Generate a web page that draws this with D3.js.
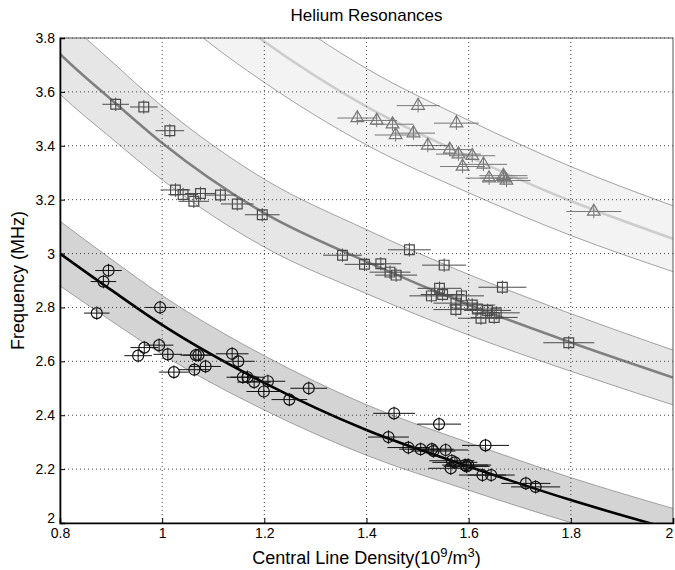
<!DOCTYPE html>
<html>
<head>
<meta charset="utf-8">
<script src="https://cdn.jsdelivr.net/npm/d3@7"></script>
<style>
  body { margin: 0; background: #fff; }
  svg text { font-family: "Liberation Sans", Arial, sans-serif; }
</style>
</head>
<body>
<div id="chart"></div>
<script>
// Helium resonances: frequency vs central line density, three modes

const xTicks = [0.8, 1, 1.2, 1.4, 1.6, 1.8, 2];
const yTicks = [2, 2.2, 2.4, 2.6, 2.8, 3, 3.2, 3.4, 3.6, 3.8];

// fitted curves
const lowCurveX = [0.8, 0.9, 1.0, 1.2, 1.4, 1.6, 1.8, 2.0];
const lowCurveY = [3.00, 2.865, 2.735, 2.52, 2.345, 2.21, 2.085, 1.975];

const midCurveX = [0.75, 0.8, 0.9, 1.0, 1.2, 1.4, 1.6, 1.8, 2.0];
const midCurveY = [3.84, 3.741, 3.572, 3.41, 3.15, 2.97, 2.81, 2.67, 2.54];

const highCurveX = [1.0, 1.1, 1.19, 1.4, 1.6, 1.8, 2.0];
const highCurveY = [4.09, 3.928, 3.80, 3.545, 3.36, 3.195, 3.055];

const bandFrac = 0.04;

// circles
const circleX = [0.872, 0.885, 0.895, 0.953, 0.965, 0.994, 0.996, 1.011, 1.023, 1.063, 1.066, 1.071, 1.085, 1.137, 1.149, 1.158, 1.167, 1.180, 1.199, 1.207, 1.249, 1.287,
  1.443, 1.454, 1.482, 1.506, 1.528, 1.531, 1.542, 1.555, 1.565, 1.567, 1.573, 1.593, 1.596, 1.599, 1.627, 1.633, 1.644, 1.712, 1.731];
const circleY = [2.779, 2.896, 2.937, 2.621, 2.651, 2.660, 2.800, 2.626, 2.560, 2.569, 2.623, 2.623, 2.581, 2.628, 2.600, 2.541, 2.541, 2.523, 2.488, 2.526, 2.458, 2.500,
  2.319, 2.407, 2.280, 2.274, 2.274, 2.267, 2.367, 2.271, 2.203, 2.231, 2.225, 2.215, 2.210, 2.215, 2.178, 2.288, 2.178, 2.147, 2.134];
const circleXErr = [0.025, 0.025, 0.026, 0.027, 0.027, 0.028, 0.029, 0.028, 0.029, 0.030, 0.030, 0.030, 0.030, 0.032, 0.032, 0.032, 0.033, 0.033, 0.034, 0.034, 0.035, 0.036,
  0.040, 0.041, 0.041, 0.042, 0.043, 0.043, 0.043, 0.044, 0.044, 0.044, 0.044, 0.045, 0.045, 0.045, 0.046, 0.046, 0.046, 0.048, 0.048];

// squares
const squareX = [0.909, 0.964, 1.015, 1.026, 1.041, 1.062, 1.075, 1.114, 1.147, 1.196,
  1.353, 1.396, 1.428, 1.446, 1.458, 1.484, 1.527, 1.543, 1.549, 1.552, 1.575, 1.575, 1.586, 1.607, 1.617, 1.624, 1.637, 1.650, 1.654, 1.666, 1.796];
const squareY = [3.554, 3.544, 3.456, 3.236, 3.219, 3.194, 3.223, 3.217, 3.184, 3.144,
  2.994, 2.960, 2.962, 2.931, 2.920, 3.014, 2.843, 2.871, 2.848, 2.957, 2.816, 2.792, 2.843, 2.809, 2.794, 2.760, 2.789, 2.763, 2.780, 2.875, 2.669];
const squareXErr = [0.026, 0.027, 0.028, 0.029, 0.029, 0.030, 0.030, 0.031, 0.032, 0.034,
  0.038, 0.039, 0.040, 0.040, 0.041, 0.042, 0.043, 0.043, 0.043, 0.043, 0.044, 0.044, 0.044, 0.045, 0.045, 0.045, 0.046, 0.046, 0.046, 0.047, 0.050];

// triangles
const triX = [1.382, 1.420, 1.451, 1.457, 1.492, 1.501, 1.520, 1.563, 1.576, 1.580, 1.588, 1.607, 1.629, 1.640, 1.668, 1.669, 1.674, 1.845];
const triY = [3.503, 3.494, 3.480, 3.440, 3.447, 3.549, 3.401, 3.386, 3.484, 3.369, 3.323, 3.363, 3.331, 3.280, 3.289, 3.280, 3.271, 3.156];
const triXErr = [0.039, 0.040, 0.041, 0.041, 0.042, 0.042, 0.043, 0.044, 0.044, 0.044, 0.044, 0.045, 0.046, 0.046, 0.047, 0.047, 0.047, 0.054];

const yErr = 0.025;

const width = 675;
const height = 570;
const margin = { top: 38, right: 2, bottom: 47, left: 60 };

const svg = d3.select("#chart")
  .append("svg")
  .attr("width", width)
  .attr("height", height);

const x = d3.scaleLinear()
  .domain([0.8, 2])
  .range([margin.left, width - margin.right]);

const y = d3.scaleLinear()
  .domain([2, 3.8])
  .range([height - margin.bottom, margin.top]);

svg.append("clipPath")
  .attr("id", "plotClip")
  .append("rect")
  .attr("x", margin.left)
  .attr("y", margin.top)
  .attr("width", width - margin.left - margin.right)
  .attr("height", height - margin.top - margin.bottom);

const plot = svg.append("g").attr("clip-path", "url(#plotClip)");

const curves = [
  { xs: lowCurveX, ys: lowCurveY, fill: "#d4d4d4", line: "#000000" },
  { xs: midCurveX, ys: midCurveY, fill: "#e6e6e6", line: "#808080" },
  { xs: highCurveX, ys: highCurveY, fill: "#f3f3f3", line: "#cdcdcd" }
];

const curveType = d3.curveMonotoneX;

// bands
curves.forEach(c => {
  const pts = c.xs.map((v, i) => ({ x: v, y: c.ys[i] }));

  plot.append("path")
    .datum(pts)
    .attr("fill", c.fill)
    .attr("d", d3.area()
      .x(d => x(d.x))
      .y0(d => y(d.y * (1 - bandFrac)))
      .y1(d => y(d.y * (1 + bandFrac)))
      .curve(curveType));

  [1 - bandFrac, 1 + bandFrac].forEach(f => {
    plot.append("path")
      .datum(pts)
      .attr("fill", "none")
      .attr("stroke", "#8c8c8c")
      .attr("stroke-width", 0.8)
      .attr("d", d3.line()
        .x(d => x(d.x))
        .y(d => y(d.y * f))
        .curve(curveType));
  });
});

// grid
svg.append("g")
  .selectAll("line")
  .data(xTicks.slice(1, -1))
  .enter()
  .append("line")
  .attr("x1", d => x(d))
  .attr("x2", d => x(d))
  .attr("y1", margin.top)
  .attr("y2", height - margin.bottom)
  .attr("stroke", "#444")
  .attr("stroke-width", 1)
  .attr("stroke-dasharray", "1,3");

svg.append("g")
  .selectAll("line")
  .data(yTicks.slice(1))
  .enter()
  .append("line")
  .attr("x1", margin.left)
  .attr("x2", width - margin.right)
  .attr("y1", d => y(d))
  .attr("y2", d => y(d))
  .attr("stroke", "#444")
  .attr("stroke-width", 1)
  .attr("stroke-dasharray", "1,3");

// fit lines
curves.forEach(c => {
  const pts = c.xs.map((v, i) => ({ x: v, y: c.ys[i] }));
  plot.append("path")
    .datum(pts)
    .attr("fill", "none")
    .attr("stroke", c.line)
    .attr("stroke-width", 2.6)
    .attr("d", d3.line().x(d => x(d.x)).y(d => y(d.y)).curve(curveType));
});

// data points with error bars
function drawSeries(xs, ys, xe, color, shape){
  const pts = xs.map((v, i) => ({ x: v, y: ys[i], e: xe[i] }));
  const g = plot.append("g");

  g.selectAll(".hbar")
    .data(pts)
    .enter()
    .append("line")
    .attr("x1", d => x(d.x - d.e))
    .attr("x2", d => x(d.x + d.e))
    .attr("y1", d => y(d.y))
    .attr("y2", d => y(d.y))
    .attr("stroke", color)
    .attr("stroke-width", 1);

  g.selectAll(".vbar")
    .data(pts)
    .enter()
    .append("line")
    .attr("x1", d => x(d.x))
    .attr("x2", d => x(d.x))
    .attr("y1", d => y(d.y - yErr))
    .attr("y2", d => y(d.y + yErr))
    .attr("stroke", color)
    .attr("stroke-width", 1);

  const sym = d3.symbol().type(shape).size(shape === d3.symbolTriangle ? 70 : 95);

  g.selectAll(".mark")
    .data(pts)
    .enter()
    .append("path")
    .attr("transform", d => `translate(${x(d.x)},${y(d.y)})`)
    .attr("d", sym)
    .attr("fill", "none")
    .attr("stroke", color)
    .attr("stroke-width", 1.2);
}

drawSeries(circleX, circleY, circleXErr, "#111", d3.symbolCircle);
drawSeries(squareX, squareY, squareXErr, "#4a4a4a", d3.symbolSquare);
drawSeries(triX, triY, triXErr, "#777", d3.symbolTriangle);

// axes
svg.append("rect")
  .attr("x", margin.left)
  .attr("y", margin.top)
  .attr("width", width - margin.left - margin.right)
  .attr("height", height - margin.top - margin.bottom)
  .attr("fill", "none")
  .attr("stroke", "#555")
  .attr("stroke-width", 1);

const xAxis = svg.append("g")
  .attr("transform", `translate(0,${height - margin.bottom})`)
  .call(d3.axisBottom(x).tickValues(xTicks).tickFormat(d3.format("")).tickSize(-5).tickPadding(5));

const yAxis = svg.append("g")
  .attr("transform", `translate(${margin.left},0)`)
  .call(d3.axisLeft(y).tickValues(yTicks).tickFormat(d3.format("")).tickSize(-5).tickPadding(5));

[xAxis, yAxis].forEach(a => {
  a.select(".domain").attr("stroke", "#000").attr("stroke-width", 1.6);
  a.selectAll(".tick line").attr("stroke", "#000");
  a.selectAll(".tick text")
    .style("font-size", "14px")
    .attr("fill", "#000");
});

// keep the last x label inside the picture and lift the bottom y label off "0.8"
xAxis.selectAll(".tick text")
  .filter(d => d === 2)
  .attr("dx", -4);

yAxis.selectAll(".tick text")
  .filter(d => d === 2)
  .attr("dy", "-0.05em");

svg.append("text")
  .attr("x", (margin.left + width - margin.right) / 2)
  .attr("y", 21)
  .attr("text-anchor", "middle")
  .style("font-size", "17px")
  .text("Helium Resonances");

svg.append("text")
  .attr("transform", "rotate(-90)")
  .attr("x", -(margin.top + height - margin.bottom) / 2)
  .attr("y", 24)
  .attr("text-anchor", "middle")
  .style("font-size", "18px")
  .text("Frequency (MHz)");

const xl = svg.append("text")
  .attr("x", (margin.left + width - margin.right) / 2)
  .attr("y", 564)
  .attr("text-anchor", "middle")
  .style("font-size", "18px");

xl.append("tspan").text("Central Line Density(10");
xl.append("tspan").attr("dy", -7).style("font-size", "13px").text("9");
xl.append("tspan").attr("dy", 7).text("/m");
xl.append("tspan").attr("dy", -7).style("font-size", "13px").text("3");
xl.append("tspan").attr("dy", 7).text(")");
</script>
</body>
</html>
